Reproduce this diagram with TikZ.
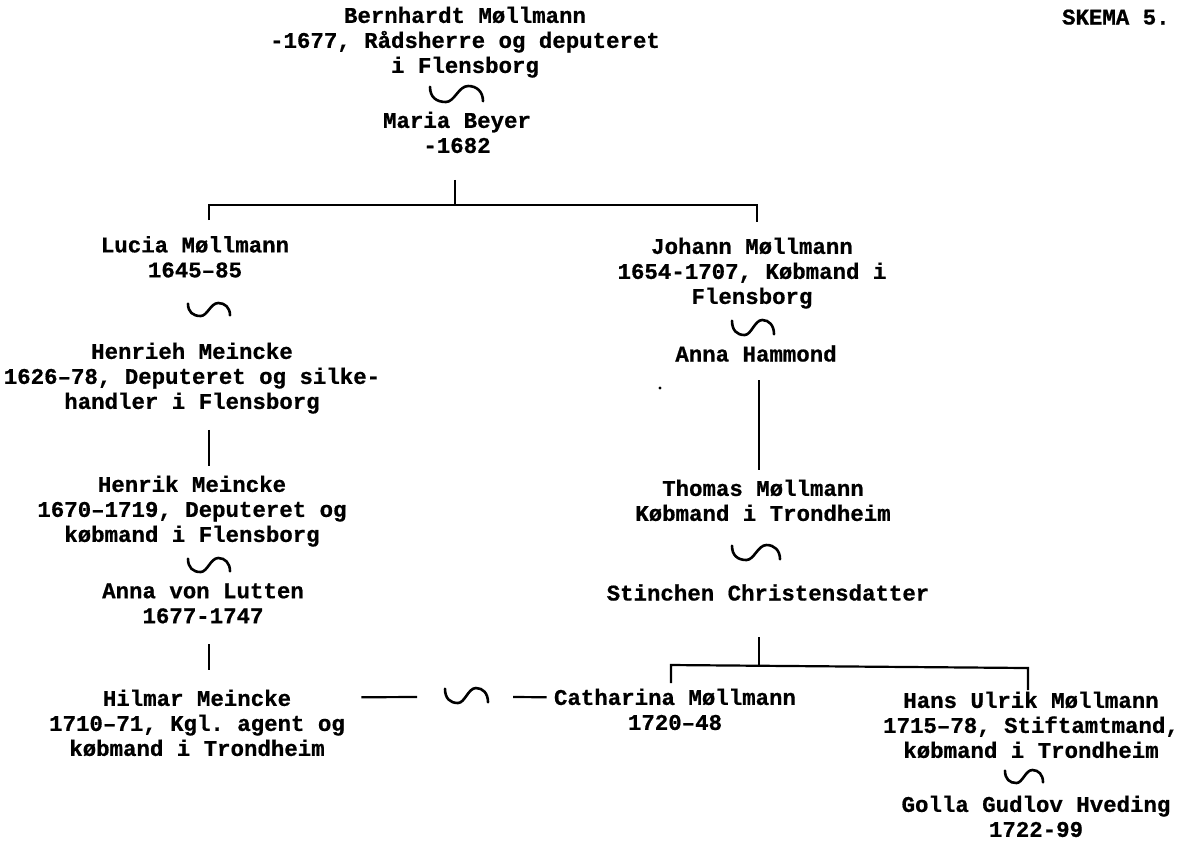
\documentclass[tikz,border=0pt]{standalone}
\usepackage{fontspec}
\setmainfont{Liberation Mono}[BoldFeatures={FakeBold=0.7}]
\usetikzlibrary{calc}
\frenchspacing
\newcommand\pfont{\fontsize{11.2}{12.5}\selectfont\bfseries\frenchspacing}
\tikzset{
  person/.style={align=center,inner sep=0pt,font=\pfont,
    execute at begin node=\strut,execute at end node=\strut},
  conn/.style={line width=1.1pt},
  wedline/.style={line width=1.3pt,line cap=round},
  pics/wedding/.style 2 args={code={
    \draw[wedline,xscale=#1,yscale=#2]
      (0,0.05) .. controls (0,0.7) and (0.12,1.0) .. (0.3,1.0)
      .. controls (0.46,1.0) and (0.54,0.0) .. (0.72,0.0)
      .. controls (0.88,0.0) and (1.0,0.35) .. (1.0,0.95);
  }}
}
\begin{document}
\begin{tikzpicture}[x=0.5pt,y=-0.5pt]
\fill[white] (0,0) rectangle (1182,843);
\useasboundingbox (0,0) rectangle (1182,843);

% header
\node[person,anchor=east] (skema) at (1170,19.5) {SKEMA 5.};

% generation 1
\node[person] (bern) at (465,43.5) {Bernhardt Møllmann\\-1677, Rådsherre og deputeret\\i Flensborg};
\pic (w1) at (430,86) {wedding={53}{16}};
\node[person] (maria) at (457,136) {Maria Beyer\\-1682};

% generation 2
\node[person] (lucia) at (195,260.5) {Lucia Møllmann\\1645–85};
\pic (w2) at (188,303) {wedding={42}{13}};
\node[person] (henrieh) at (192,379.5) {Henrieh Meincke\\1626–78, Deputeret og silke-\\handler i Flensborg};

\node[person] (johann) at (752,274.5) {Johann Møllmann\\1654-1707, Købmand i\\Flensborg};
\pic (w3) at (732,320) {wedding={42}{15}};
\node[person] (annah) at (756,356.5) {Anna Hammond};

% generation 3
\node[person] (henrik) at (192,512.5) {Henrik Meincke\\1670–1719, Deputeret og\\købmand i Flensborg};
\pic (w4) at (188,558) {wedding={42}{14}};
\node[person] (annavl) at (203,607) {Anna von Lutten\\1677-1747};

\node[person] (thomas) at (763,504) {Thomas Møllmann\\Købmand i Trondheim};
\pic (w5) at (732,545) {wedding={48}{15}};
\node[person] (stinchen) at (768,595.5) {Stinchen Christensdatter};

% generation 4
\node[person] (hilmar) at (197,726.5) {Hilmar Meincke\\1710–71, Kgl. agent og\\købmand i Trondheim};
\node[person] (cath) at (675,713) {Catharina Møllmann\\1720–48};
\node[person] (hans) at (1031,728.5) {Hans Ulrik Møllmann\\1715–78, Stiftamtmand,\\købmand i Trondheim};
\pic (w7) at (1005,770) {wedding={38}{13}};
\node[person] (golla) at (1036,820) {Golla Gudlov Hveding\\1722-99};

% marriage Hilmar -- Catharina
\pic (w6) at (445,688) {wedding={43}{15}};
\coordinate (m6) at (466,697);
\draw[conn] ($(hilmar.north east)+(16,8)$) -- ($(m6)+(-49,0)$);
\draw[conn] ($(m6)+(47,0)$) -- ($(cath.north west)+(-7,9)$);

% family bar 1
\coordinate (j1) at (455,205);
\coordinate (j1l) at (209,205);
\coordinate (j1r) at (757,205);
\draw[conn] ($(maria.south)+(-2,19)$) -- (j1);
\draw[conn] ($(j1l)+(0,15)$) -- (j1l) -- (j1r) -- ($(j1r)+(0,17)$);

% descent lines
\draw[conn] ($(henrieh.south)+(17,13)$) -- ($(henrik.north)+(17,-9)$);
\draw[conn] ($(annavl.south)+(6,13)$) -- ($(hilmar.north)+(12,-19)$);
\draw[conn] ($(annah.south)+(3,11)$) -- ($(thomas.north)+(-4,-9)$);

% family bar 2
\coordinate (j2) at (759,666);
\coordinate (j2l) at (671,665);
\coordinate (j2r) at (1028,668);
\draw[conn] ($(stinchen.south)+(-9,29)$) -- (j2);
\draw[conn] ($(j2l)+(0,18)$) -- (j2l) -- (j2r) -- ($(j2r)+(0,22)$);

% stray mark
\fill (660,388) circle[radius=0.8pt];
\end{tikzpicture}
\end{document}
